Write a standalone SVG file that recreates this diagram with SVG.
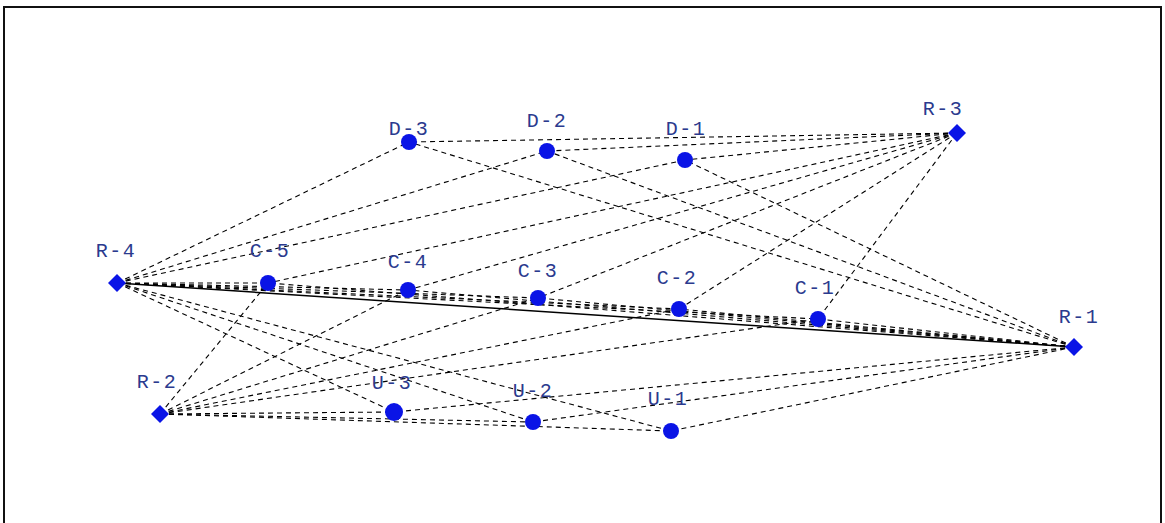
<svg xmlns="http://www.w3.org/2000/svg" width="1165" height="523" viewBox="0 0 1165 523">
<style>
.e{stroke:#000;stroke-width:1.1;stroke-dasharray:5 4;fill:none}
.n{fill:#0a14e6}
.t{font-family:"Liberation Mono","DejaVu Sans Mono",monospace;font-size:20px;letter-spacing:1.5px;fill:#2b3a8e;text-anchor:middle}
</style>
<rect x="0" y="0" width="1165" height="523" fill="#fff"/>
<rect x="4" y="7" width="1157" height="530" fill="none" stroke="#111" stroke-width="2"/>
<g id="connectors">
<line class="e" x1="117" y1="283" x2="409" y2="142"/>
<line class="e" x1="117" y1="283" x2="547" y2="151"/>
<line class="e" x1="117" y1="283" x2="685" y2="160"/>
<line class="e" x1="117" y1="283" x2="268" y2="283"/>
<line class="e" x1="117" y1="283" x2="408" y2="290"/>
<line class="e" x1="117" y1="283" x2="538" y2="298"/>
<line class="e" x1="117" y1="283" x2="679" y2="309"/>
<line class="e" x1="117" y1="283" x2="818" y2="319"/>
<line class="e" x1="117" y1="283" x2="394" y2="412"/>
<line class="e" x1="117" y1="283" x2="533" y2="422"/>
<line class="e" x1="117" y1="283" x2="671" y2="431"/>
<line x1="117" y1="283" x2="1074" y2="347" stroke="#000" stroke-width="1.5"/>
<line class="e" x1="957" y1="133" x2="409" y2="142"/>
<line class="e" x1="957" y1="133" x2="547" y2="151"/>
<line class="e" x1="957" y1="133" x2="685" y2="160"/>
<line class="e" x1="957" y1="133" x2="268" y2="283"/>
<line class="e" x1="957" y1="133" x2="408" y2="290"/>
<line class="e" x1="957" y1="133" x2="538" y2="298"/>
<line class="e" x1="957" y1="133" x2="679" y2="309"/>
<line class="e" x1="957" y1="133" x2="818" y2="319"/>
<line class="e" x1="1074" y1="347" x2="409" y2="142"/>
<line class="e" x1="1074" y1="347" x2="547" y2="151"/>
<line class="e" x1="1074" y1="347" x2="685" y2="160"/>
<line class="e" x1="1074" y1="347" x2="268" y2="283"/>
<line class="e" x1="1074" y1="347" x2="408" y2="290"/>
<line class="e" x1="1074" y1="347" x2="538" y2="298"/>
<line class="e" x1="1074" y1="347" x2="679" y2="309"/>
<line class="e" x1="1074" y1="347" x2="818" y2="319"/>
<line class="e" x1="1074" y1="347" x2="394" y2="412"/>
<line class="e" x1="1074" y1="347" x2="533" y2="422"/>
<line class="e" x1="1074" y1="347" x2="671" y2="431"/>
<line class="e" x1="160" y1="414" x2="268" y2="283"/>
<line class="e" x1="160" y1="414" x2="408" y2="290"/>
<line class="e" x1="160" y1="414" x2="538" y2="298"/>
<line class="e" x1="160" y1="414" x2="679" y2="309"/>
<line class="e" x1="160" y1="414" x2="818" y2="319"/>
<line class="e" x1="160" y1="414" x2="394" y2="412"/>
<line class="e" x1="160" y1="414" x2="533" y2="422"/>
<line class="e" x1="160" y1="414" x2="671" y2="431"/>
</g>
<g id="D-3"><circle class="n" cx="409" cy="142" r="8"/><text class="t" x="409" y="135">D-3</text></g>
<g id="D-2"><circle class="n" cx="547" cy="151" r="8"/><text class="t" x="547" y="127">D-2</text></g>
<g id="D-1"><circle class="n" cx="685" cy="160" r="8"/><text class="t" x="686" y="135">D-1</text></g>
<g id="R-3"><polygon class="n" points="957,124 966,133 957,142 948,133"/><text class="t" x="943" y="115">R-3</text></g>
<g id="R-4"><polygon class="n" points="117,274 126,283 117,292 108,283"/><text class="t" x="116" y="257">R-4</text></g>
<g id="C-5"><circle class="n" cx="268" cy="283" r="8"/><text class="t" x="270" y="257">C-5</text></g>
<g id="C-4"><circle class="n" cx="408" cy="290" r="8"/><text class="t" x="408" y="268">C-4</text></g>
<g id="C-3"><circle class="n" cx="538" cy="298" r="8"/><text class="t" x="538" y="277">C-3</text></g>
<g id="C-2"><circle class="n" cx="679" cy="309" r="8"/><text class="t" x="677" y="284">C-2</text></g>
<g id="C-1"><circle class="n" cx="818" cy="319" r="8"/><text class="t" x="815" y="294">C-1</text></g>
<g id="R-1"><polygon class="n" points="1074,338 1083,347 1074,356 1065,347"/><text class="t" x="1079" y="323">R-1</text></g>
<g id="R-2"><polygon class="n" points="160,405 169,414 160,423 151,414"/><text class="t" x="157" y="388">R-2</text></g>
<g id="U-3"><circle class="n" cx="394" cy="412" r="9"/><text class="t" x="392" y="389">U-3</text></g>
<g id="U-2"><circle class="n" cx="533" cy="422" r="8"/><text class="t" x="533" y="397">U-2</text></g>
<g id="U-1"><circle class="n" cx="671" cy="431" r="8"/><text class="t" x="668" y="405">U-1</text></g>
</svg>
